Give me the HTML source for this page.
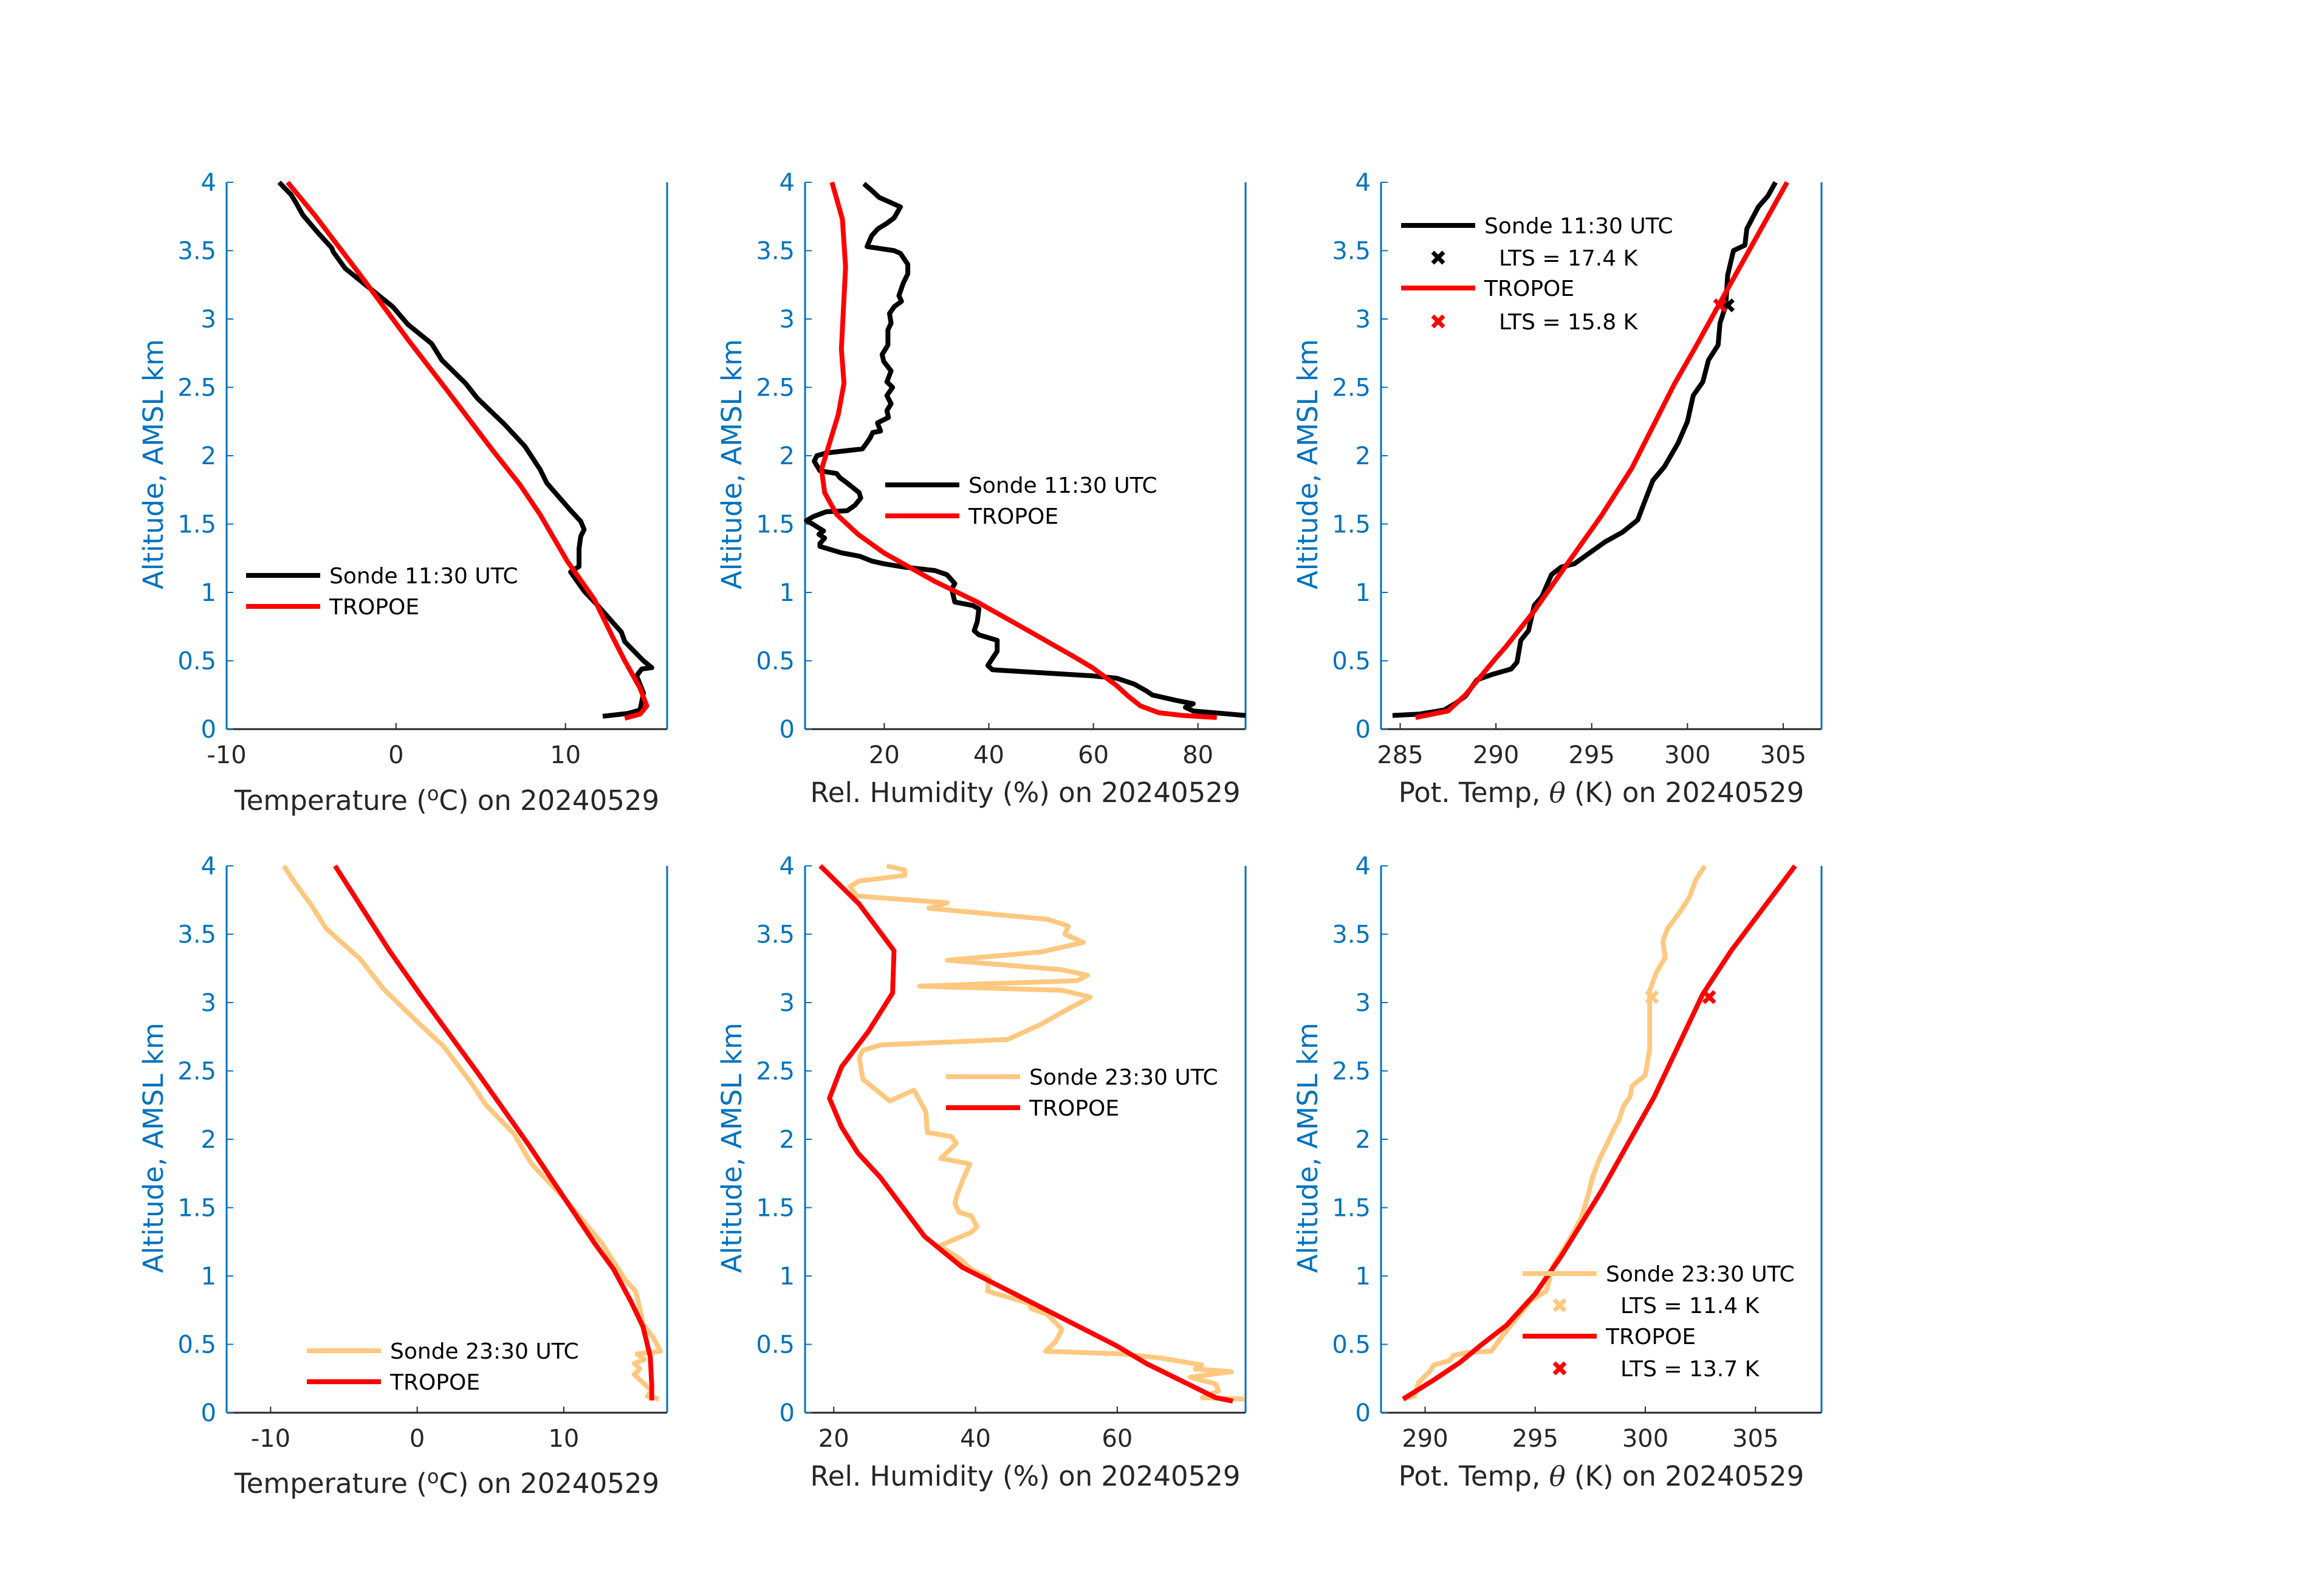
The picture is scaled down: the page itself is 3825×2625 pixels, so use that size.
<!DOCTYPE html>
<html><head><meta charset="utf-8"><style>
html,body{margin:0;padding:0;background:#fff}
svg{display:block}
text{font-family:"DejaVu Sans","Liberation Sans",sans-serif}
</style></head><body>
<svg id="fig" width="3825" height="2625" viewBox="0 0 3825 2625" xmlns="http://www.w3.org/2000/svg"></svg>
<script>
// ---- data (altitude km, value) ----
const t1SondeT=[12.2,13.7,14.4,14.5,14.6,14.2,14.5,15.1,14.6,13.5,13.3,11.9,11.1,10.3,10.8,10.8,10.9,11.1,10.9,10.3,8.9,8.5,7.6,6.4,4.8,4.1,2.7,2.1,0.7,-0.2,-1.6,-3.0,-3.7,-3.8,-4.6,-5.5,-5.9,-6.2,-6.9];
const t1SondeZ=[0.094,0.115,0.14,0.2,0.265,0.39,0.44,0.45,0.5,0.64,0.71,0.905,1.01,1.15,1.19,1.32,1.41,1.46,1.52,1.6,1.8,1.9,2.07,2.23,2.42,2.53,2.7,2.82,2.96,3.09,3.23,3.37,3.49,3.52,3.63,3.76,3.85,3.91,4.0];
const t1TropT=[13.5,14.4,14.8,14.4,13.5,12.8,11.7,10.1,8.5,7.3,5.7,3.0,0.7,-2.1,-4.8,-6.4];
const t1TropZ=[0.08,0.11,0.17,0.3,0.5,0.67,0.95,1.23,1.57,1.79,2.04,2.48,2.85,3.32,3.76,4.0];

const rh1SondeX=[89.1,79.1,77.6,79.1,75.9,71.3,70.1,67.8,64.4,59.8,51.1,40.7,39.8,41.6,41.6,38.1,37.2,37.8,38.1,36.9,33.5,32.9,33.5,32.0,29.7,23.9,19.9,17.6,15.3,11.8,7.7,7.7,8.6,7.5,8.4,6.3,5.1,6.6,8.9,12.9,14.4,15.5,15.2,12.9,11.5,10.9,7.7,6.6,7.1,8.9,15.8,16.4,17.3,17.8,19.3,18.7,20.8,20.5,21.3,20.5,21.6,20.5,21.3,19.9,19.6,20.7,20.7,21.3,21.0,21.9,23.3,22.8,23.6,24.5,24.5,23.1,21.9,16.7,17.6,18.8,20.5,21.9,23.1,19.0,17.9,16.1];
const rh1SondeZ=[0.1,0.133,0.16,0.186,0.21,0.25,0.28,0.33,0.373,0.39,0.41,0.434,0.466,0.57,0.65,0.69,0.72,0.786,0.88,0.905,0.93,1.025,1.065,1.13,1.16,1.185,1.21,1.23,1.265,1.29,1.337,1.358,1.398,1.425,1.45,1.5,1.526,1.558,1.59,1.598,1.638,1.69,1.73,1.8,1.84,1.87,1.89,1.96,2.0,2.02,2.05,2.08,2.13,2.17,2.18,2.24,2.28,2.33,2.38,2.44,2.5,2.54,2.62,2.69,2.74,2.81,2.92,2.97,3.04,3.09,3.13,3.17,3.26,3.33,3.4,3.48,3.5,3.53,3.61,3.66,3.7,3.74,3.82,3.89,3.93,3.99];
const rh1TropX=[83.6,77.1,72.5,69.0,66.7,64.4,59.8,56.3,47.1,37.8,29.7,19.9,15.0,10.9,8.6,8.0,11.2,12.3,11.8,12.6,12.0,10.0];
const rh1TropZ=[0.085,0.1,0.12,0.17,0.24,0.32,0.45,0.53,0.73,0.93,1.08,1.29,1.425,1.57,1.73,1.9,2.3,2.53,2.78,3.38,3.73,4.0];

const th1SondeX=[284.6,286.0,287.3,287.9,288.4,289.0,289.8,290.8,291.1,291.3,291.7,292.0,292.4,292.9,293.4,294.1,294.9,295.7,296.6,297.4,297.7,298.2,298.8,299.5,300.0,300.3,300.8,301.1,301.6,301.7,302.0,302.1,302.4,303.0,303.1,303.7,304.2,304.6];
const th1SondeZ=[0.1,0.11,0.14,0.19,0.24,0.36,0.4,0.44,0.49,0.65,0.72,0.905,0.97,1.13,1.185,1.21,1.29,1.37,1.44,1.53,1.64,1.82,1.92,2.09,2.25,2.44,2.54,2.7,2.81,2.97,3.1,3.32,3.5,3.54,3.66,3.82,3.9,4.0];
const th1TropX=[285.8,287.5,288.4,290.0,290.5,292.0,293.6,295.5,297.1,299.3,300.4,301.9,305.2];
const th1TropZ=[0.085,0.133,0.25,0.52,0.6,0.865,1.185,1.56,1.91,2.52,2.79,3.17,4.0];
const lts1Sonde=[302.1,3.1], lts1Trop=[301.7,3.1];

const t2SondeT=[16.5,15.7,16.0,15.6,14.8,15.2,14.8,15.5,15.0,16.6,16.1,15.4,15.2,14.9,14.2,12.6,10.1,7.8,6.6,4.7,3.7,1.8,0.0,-2.3,-3.9,-6.2,-7.2,-8.3,-9.1];
const t2SondeZ=[0.1,0.12,0.16,0.2,0.28,0.32,0.36,0.39,0.43,0.45,0.55,0.65,0.76,0.89,0.97,1.24,1.56,1.82,2.04,2.25,2.41,2.68,2.86,3.1,3.32,3.54,3.71,3.87,4.0];
const t2TropT=[16.0,16.0,15.9,15.4,14.6,13.4,12.1,7.6,4.1,0.2,-1.9,-5.6];
const t2TropZ=[0.09,0.2,0.41,0.63,0.81,1.05,1.24,1.96,2.49,3.06,3.38,4.0];

const rh2SondeX=[78.0,72.0,74.3,73.9,70.3,76.1,71.0,71.9,66.1,60.7,49.9,51.3,52.2,50.1,47.9,47.5,41.7,41.9,39.4,37.7,34.9,39.4,40.2,39.4,37.7,37.1,37.3,38.1,39.2,35.1,37.3,36.6,33.2,33.0,31.3,27.9,24.1,23.6,24.1,26.6,44.5,49.2,52.6,56.2,52.2,32.1,54.3,55.8,52.2,36.0,49.2,55.2,52.6,53.1,50.1,33.4,36.0,23.2,22.3,23.6,30.0,30.0,27.5];
const rh2SondeZ=[0.1,0.11,0.16,0.21,0.26,0.3,0.32,0.35,0.4,0.43,0.45,0.52,0.61,0.72,0.76,0.8,0.89,0.985,1.05,1.13,1.22,1.32,1.36,1.44,1.465,1.53,1.58,1.69,1.82,1.86,1.97,2.02,2.05,2.2,2.36,2.28,2.44,2.6,2.65,2.69,2.73,2.84,2.94,3.04,3.09,3.12,3.16,3.2,3.24,3.31,3.37,3.44,3.5,3.56,3.61,3.69,3.73,3.78,3.85,3.89,3.93,3.97,4.0];
const rh2TropX=[76.3,73.9,64.1,59.9,38.1,32.8,26.6,23.4,21.1,19.4,21.1,24.9,28.3,28.5,23.6,18.1];
const rh2TropZ=[0.085,0.11,0.36,0.49,1.065,1.29,1.72,1.9,2.09,2.3,2.53,2.79,3.07,3.38,3.72,4.0];

const th2SondeX=[289.0,289.5,289.7,290.2,290.4,291.1,291.3,291.9,293.0,293.6,294.4,294.8,295.5,295.8,296.5,297.1,297.4,297.6,297.9,298.3,298.5,298.8,299.0,299.3,299.4,300.0,300.2,300.2,300.2,300.5,300.9,300.8,301.0,301.6,302.0,302.3,302.7];
const th2SondeZ=[0.1,0.12,0.22,0.3,0.35,0.38,0.42,0.44,0.45,0.58,0.74,0.82,0.89,1.07,1.25,1.43,1.59,1.72,1.85,1.98,2.05,2.14,2.24,2.31,2.39,2.47,2.66,2.89,3.09,3.22,3.33,3.45,3.54,3.67,3.77,3.9,4.0];
const th2TropX=[289.0,290.4,291.6,292.5,293.7,295.0,296.2,298.0,300.4,302.6,303.9,306.8];
const th2TropZ=[0.1,0.24,0.37,0.49,0.64,0.87,1.15,1.62,2.31,3.06,3.38,4.0];
const lts2Sonde=[300.3,3.04], lts2Trop=[302.9,3.04];

const yTicks=[0,0.5,1,1.5,2,2.5,3,3.5,4];
const yTickLabels=["0","0.5","1","1.5","2","2.5","3","3.5","4"];
const xTicksT1=[-10,0,10], xTicksRH1=[20,40,60,80], xTicksTh1=[285,290,295,300,305];
const xTicksT2=[-10,0,10], xTicksRH2=[20,40,60], xTicksTh2=[290,295,300,305];

const NS="http://www.w3.org/2000/svg";
const svg=document.getElementById('fig');
const BLUE="#0072BD", DARK="#262626", ORANGE="#FFC880", RED="#FF0000";
function mk(tag,attrs,parent){const e=document.createElementNS(NS,tag);for(const k in attrs)e.setAttribute(k,attrs[k]);(parent||svg).appendChild(e);return e;}

function panel(id,L,T,W,H,xmin,xmax,xticks){
  const g=mk('g',{});
  
  
  const sx=v=>L+(v-xmin)/(xmax-xmin)*W;
  const sy=z=>T+H-(z/4)*H;
  const xa=mk('line',{x1:L,y1:T+H,x2:L+W,y2:T+H,stroke:DARK,'stroke-width':3},g);
  
  
  xticks.forEach(v=>{
    const tk=mk('line',{x1:sx(v),y1:T+H,x2:sx(v),y2:T+H-10,stroke:DARK,'stroke-width':2},g);
    
    
    const tl=mk('text',{x:sx(v),y:T+H+56,'font-size':40,fill:DARK,'text-anchor':'middle'},g);
    
    
    tl.textContent=String(v);
  });
  const ya=mk('line',{x1:L,y1:T,x2:L,y2:T+H,stroke:BLUE,'stroke-width':3},g);
  
  
  const yr=mk('line',{x1:L+W,y1:T,x2:L+W,y2:T+H,stroke:BLUE,'stroke-width':3},g);
  
  
  yTicks.forEach((z,i)=>{
    const tk=mk('line',{x1:L,y1:sy(z),x2:L+11,y2:sy(z),stroke:BLUE,'stroke-width':2},g);
    
    
    const tl=mk('text',{x:L-17,y:sy(z)+14,'font-size':40,fill:BLUE,'text-anchor':'end'},g);
    
    
    tl.textContent=yTickLabels[i];
  });
  const yl=mk('text',{x:0,y:0,'font-size':45,fill:BLUE,'text-anchor':'middle',transform:`translate(${L-105},${T+H/2+14}) rotate(-90)`},g);
  
  
  yl.textContent="Altitude, AMSL km";
  return {g,sx,sy};
}
function series(p,xs,zs,color,name){
  const d=xs.map((v,i)=>(i?'L':'M')+p.sx(v).toFixed(1)+' '+p.sy(zs[i]).toFixed(1)).join(' ');
  const e=mk('path',{d,fill:'none',stroke:color,'stroke-width':8,'stroke-linejoin':'round','stroke-linecap':'butt'},p.g);
  
  
}
function xmark(cx,cy,color,name,parent){
  const e=mk('path',{d:`M${cx-9} ${cy-9} L${cx+9} ${cy+9} M${cx-9} ${cy+9} L${cx+9} ${cy-9}`,stroke:color,'stroke-width':7},parent);
  
  
}
function legendLine(x,y,color,label,name){
  const l=mk('line',{x1:x,y1:y,x2:x+122,y2:y,stroke:color,'stroke-width':8});
  
  
  const t=mk('text',{x:x+137,y:y+13,'font-size':36,fill:'#000'});
  
  
  t.textContent=label;
}
function xlabel(cx,y,html,name){
  const t=mk('text',{x:cx,y:y,'font-size':45,fill:DARK,'text-anchor':'middle'});
  
  
  t.innerHTML=html;
}
const W=725,H=900;
const C=[373,1325,2273], R=[300,1425];

let p=panel('temp-panel-1130',C[0],R[0],W,H,-10,16,xTicksT1);
series(p,t1SondeT,t1SondeZ,'#000','sonde-temp-line');
series(p,t1TropT,t1TropZ,RED,'tropoe-temp-line');
p=panel('rh-panel-1130',C[1],R[0],W,H,4.85,89.1,xTicksRH1);
series(p,rh1SondeX,rh1SondeZ,'#000','sonde-rh-line');
series(p,rh1TropX,rh1TropZ,RED,'tropoe-rh-line');
p=panel('theta-panel-1130',C[2],R[0],W,H,284,307,xTicksTh1);
series(p,th1SondeX,th1SondeZ,'#000','sonde-theta-line');
series(p,th1TropX,th1TropZ,RED,'tropoe-theta-line');
xmark(p.sx(lts1Sonde[0]),p.sy(lts1Sonde[1]),'#000','sonde-lts-marker',p.g);
xmark(p.sx(lts1Trop[0]),p.sy(lts1Trop[1]),RED,'tropoe-lts-marker',p.g);
p=panel('temp-panel-2330',C[0],R[1],W,H,-13,17.05,xTicksT2);
series(p,t2SondeT,t2SondeZ,ORANGE,'sonde-temp-line');
series(p,t2TropT,t2TropZ,RED,'tropoe-temp-line');
p=panel('rh-panel-2330',C[1],R[1],W,H,15.95,78.1,xTicksRH2);
series(p,rh2SondeX,rh2SondeZ,ORANGE,'sonde-rh-line');
series(p,rh2TropX,rh2TropZ,RED,'tropoe-rh-line');
p=panel('theta-panel-2330',C[2],R[1],W,H,288,308,xTicksTh2);
series(p,th2SondeX,th2SondeZ,ORANGE,'sonde-theta-line');
series(p,th2TropX,th2TropZ,RED,'tropoe-theta-line');
xmark(p.sx(lts2Sonde[0]),p.sy(lts2Sonde[1]),ORANGE,'sonde-lts-marker',p.g);
xmark(p.sx(lts2Trop[0]),p.sy(lts2Trop[1]),RED,'tropoe-lts-marker',p.g);

const tl='Temperature (<tspan dy="-16" font-size="32">o</tspan><tspan dy="16">C) on 20240529</tspan>';
const thl='Pot. Temp, <tspan font-family="DejaVu Serif, serif" font-style="italic">θ</tspan> (K) on 20240529';
xlabel(C[0]+W/2,1333,tl,'x-axis-title-temp-1');
xlabel(C[1]+W/2,1320,'Rel. Humidity (%) on 20240529','x-axis-title-rh-1');
xlabel(C[2]+W/2,1320,thl,'x-axis-title-theta-1');
xlabel(C[0]+W/2,2457,tl,'x-axis-title-temp-2');
xlabel(C[1]+W/2,2445,'Rel. Humidity (%) on 20240529','x-axis-title-rh-2');
xlabel(C[2]+W/2,2445,thl,'x-axis-title-theta-2');

legendLine(405,947,'#000','Sonde 11:30 UTC','legend-sonde-1');
legendLine(405,998,RED,'TROPOE','legend-tropoe-1');
legendLine(1457,798,'#000','Sonde 11:30 UTC','legend-sonde-2');
legendLine(1457,849,RED,'TROPOE','legend-tropoe-2');
legendLine(2306,371,'#000','Sonde 11:30 UTC','legend-sonde-3');
legendLine(2306,474,RED,'TROPOE','legend-tropoe-3');
legendLine(505,2223,ORANGE,'Sonde 23:30 UTC','legend-sonde-4');
legendLine(505,2274,RED,'TROPOE','legend-tropoe-4');
legendLine(1557,1772,ORANGE,'Sonde 23:30 UTC','legend-sonde-5');
legendLine(1557,1823,RED,'TROPOE','legend-tropoe-5');
legendLine(2506,2096,ORANGE,'Sonde 23:30 UTC','legend-sonde-6');
legendLine(2506,2199,RED,'TROPOE','legend-tropoe-6');
function ltsEntry(x,y,color,label,name){
  xmark(x,y,color,name+'-marker');
  const t=mk('text',{x:x+100,y:y+13,'font-size':36,fill:'#000'});
  
  
  t.textContent=label;
}
ltsEntry(2367,424,'#000','LTS = 17.4 K','legend-lts-sonde-1');
ltsEntry(2367,529,RED,'LTS = 15.8 K','legend-lts-tropoe-1');
ltsEntry(2567,2148,ORANGE,'LTS = 11.4 K','legend-lts-sonde-2');
ltsEntry(2567,2252,RED,'LTS = 13.7 K','legend-lts-tropoe-2');
</script>
</body></html>
